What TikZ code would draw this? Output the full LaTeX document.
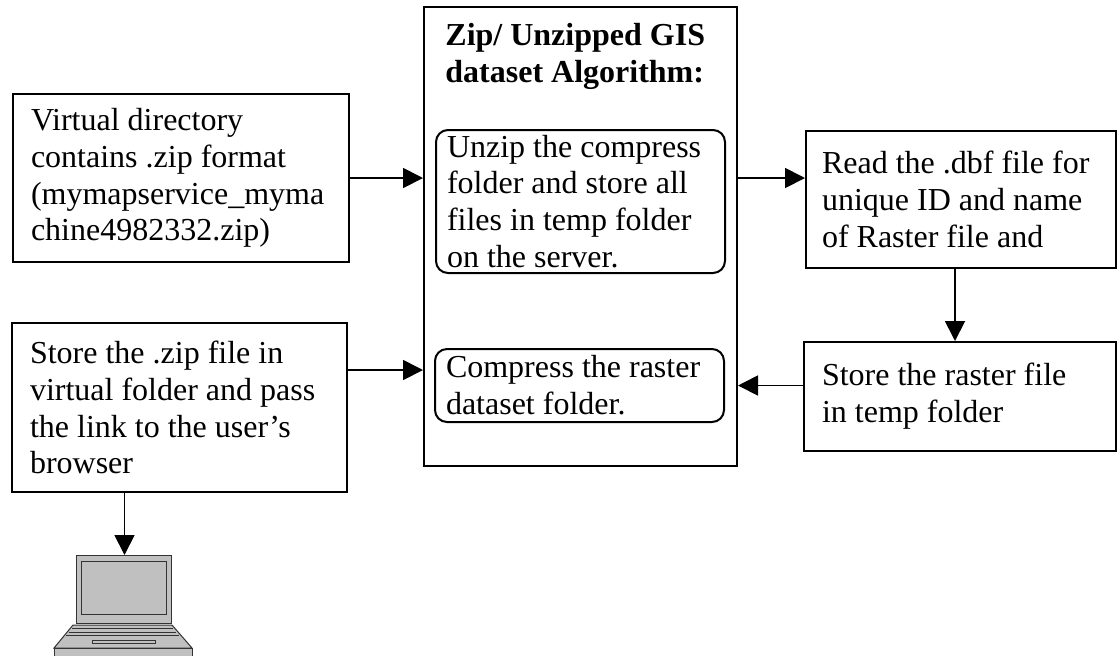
\documentclass[tikz,border=0pt]{standalone}
\usepackage{fontspec}
\setmainfont{Liberation Serif}
\usetikzlibrary{arrows.meta}
\definecolor{pcgray}{HTML}{C0C0C0}

\begin{document}
\begin{tikzpicture}[x=0.5pt, y=-0.5pt, >={Triangle[length=10pt, width=10pt]},
    every node/.style={font=\fontsize{16}{18.4}\selectfont},
    box/.style={draw, line width=1pt, align=flush left, inner xsep=9pt, inner ysep=2pt},
    inbox/.style={draw, line width=1pt, rounded corners=6pt, align=flush left, inner xsep=5.5pt, inner ysep=0.5pt},
    flow/.style={->, line width=0.9pt},
    pcpart/.style={fill=pcgray, draw=black!80, line width=0.5pt}]
    \useasboundingbox (0,0) rectangle (1117,655);

    % outer boxes
    \node (virt) at (181, 178) [box, minimum width=168pt, minimum height=84pt, text width=150pt] {Virtual directory\\contains .zip format\\(mymapservice\_myma\\chine4982332.zip)};
    \node (zip) at (179.5, 407.5) [box, minimum width=167.5pt, minimum height=84.5pt, text width=149.5pt] {Store the .zip file in\\virtual folder and pass\\the link to the user’s\\browser};
    \node (read) at (961, 199.5) [box, inner xsep=8pt, minimum width=155pt, minimum height=68.5pt, text width=139pt] {Read the .dbf file for\\unique ID and name\\of Raster file and};
    \node (rast) at (960, 396.5) [box, minimum width=156pt, minimum height=54.5pt, text width=138pt] {Store the raster file\\in temp folder};

    % algorithm block
    \node (algo) at (580.5, 236.5) [draw, line width=1pt, minimum width=156.5pt, minimum height=229.5pt] {};
    \node (title) at (445, 23) [anchor=north west, inner sep=0pt, align=flush left, font=\fontsize{16}{18.4}\selectfont\bfseries] {Zip/ Unzipped GIS\\dataset Algorithm:};
    \node (unzip) at (580.5, 201.5) [inbox, minimum width=144.5pt, minimum height=71.5pt, text width=133.5pt] {Unzip the compress\\folder and store all\\files in temp folder\\on the server.};
    \node (compress) at (579.5, 385.5) [inbox, minimum width=144.5pt, minimum height=36.5pt, text width=133.5pt] {Compress the raster\\dataset folder.};

    % laptop
    \coordinate (pc) at (124.5, 555);
    \draw[pcpart] (76,555) rectangle (171,623);
    \draw[pcpart] (81,561) rectangle (166,614);
    \draw[pcpart] (73,625) -- (172,625) -- (192,648) -- (54,648) -- cycle;
    \draw[draw=black!80, line width=0.5pt] (72,628.5) -- (173,628.5);
    \draw[draw=black!80, line width=0.5pt] (69,632) -- (176,632);
    \draw[draw=black!80, line width=0.5pt] (66,635.5) -- (179,635.5);
    \draw[pcpart] (92,640) rectangle (155,643);
    \draw[pcpart] (54,648) rectangle (192,657);

    % connectors
    \coordinate (zipout) at ([yshift=18.75pt]zip.east);
    \coordinate (down) at ([xshift=-3pt]read.south);
    \draw[flow] (virt.east) -- (virt.east -| algo.west);
    \draw[flow] (algo.east |- virt.east) -- (read.west |- virt.east);
    \draw[flow] (down) -- (down |- rast.north);
    \draw[flow] (rast.west |- compress) -- (algo.east |- compress);
    \draw[flow] (zipout) -- (zipout -| algo.west);
    \draw[flow] (zip.south -| pc) -- (pc);
\end{tikzpicture}
\end{document}
